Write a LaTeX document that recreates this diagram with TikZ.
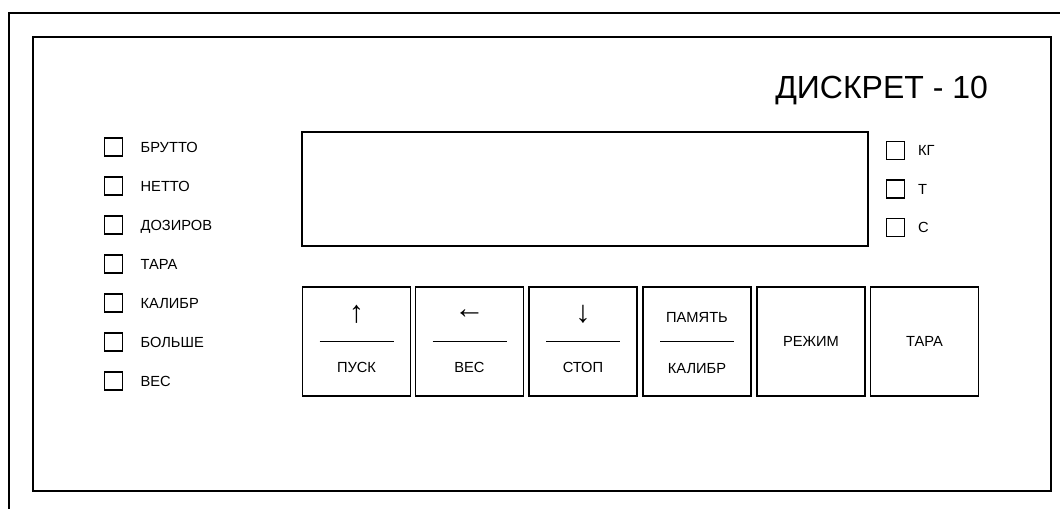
\documentclass[tikz,border=0pt]{standalone}
\usepackage{fontspec}
\setmainfont{Liberation Sans}
\usetikzlibrary{positioning}

\begin{document}
\begin{tikzpicture}[x=0.75pt, y=-0.75pt,
  framebox/.style={draw=black, line width=1.5pt},
  dispbox/.style={rectangle, draw=black, line width=1.3pt,
    minimum width=424.5pt, minimum height=85.5pt, inner sep=0pt},
  keybox/.style={rectangle, draw=black, line width=1.3pt,
    minimum width=81pt, minimum height=81.75pt, inner sep=0pt},
  lampbox/.style={rectangle, draw=black, line width=1.3pt,
    minimum size=13.5pt, inner sep=0pt},
  lamptext/.style={font=\fontsize{11}{13}\selectfont,
    text height=7.9pt, text depth=0pt, inner sep=0pt},
  keytext/.style={font=\fontsize{11}{13}\selectfont,
    text height=7.9pt, text depth=0pt, inner sep=0pt},
  signtext/.style={font=\fontsize{23}{25}\selectfont, inner sep=0pt},
  titletext/.style={font=\fontsize{24}{28}\selectfont, anchor=west,
    text height=17.2pt, text depth=0pt, inner sep=0pt},
  keyline/.style={line width=1.3pt}
]
\useasboundingbox (0,0) rectangle (1060,509);

%% ==== Panel frames ====
\draw[framebox] (9,509) -- (9,13) -- (1060,13);
\draw[framebox] (33,37) rectangle (1051,491);

%% ==== Title and display ====
\node[titletext] (title) at (775,87.5) {ДИСКРЕТ - 10};
\node[dispbox] (disp) at (585,189) {};

%% ==== Left lamps ====
\foreach \n/\y/\t in {1/147/БРУТТО, 2/186/НЕТТО, 3/225/ДОЗИРОВ, 4/264/ТАРА,
                      5/303/КАЛИБР, 6/342/БОЛЬШЕ, 7/381/ВЕС} {
  \node[lampbox] (L\n) at (113.5,\y) {};
  \node[lamptext, right=12.75pt of L\n] (LT\n) {\t};
}

%% ==== Unit lamps ====
\foreach \n/\y/\t in {1/150.5/КГ, 2/189/Т, 3/227.5/С} {
  \node[lampbox] (U\n) at (895.5,\y) {};
  \node[lamptext, right=9.4pt of U\n] (UT\n) {\t};
}

%% ==== Keys ====
\foreach \n/\x in {1/356.5, 2/469.5, 3/583, 4/697, 5/811, 6/924.5}
  \node[keybox] (K\n) at (\x,341.5) {};

%% ==== Split keys ====
\foreach \n/\s/\w in {1/↑/ПУСК, 2/←/ВЕС, 3/↓/СТОП} {
  \node[signtext] (S\n) at ([yshift=20.25pt]K\n.center) {\s};
  \draw[keyline] ([xshift=-27.75pt]K\n.center) -- ([xshift=27.75pt]K\n.center);
  \node[keytext] (W\n) at ([yshift=-19.5pt]K\n.center) {\w};
}
\node[keytext] (S4) at ([yshift=18.4pt]K4.center) {ПАМЯТЬ};
\draw[keyline] ([xshift=-27.75pt]K4.center) -- ([xshift=27.75pt]K4.center);
\node[keytext] (W4) at ([yshift=-19.9pt]K4.center) {КАЛИБР};

%% ==== Single keys ====
\node[keytext] (W5) at (K5.center) {РЕЖИМ};
\node[keytext] (W6) at (K6.center) {ТАРА};

\end{tikzpicture}
\end{document}
